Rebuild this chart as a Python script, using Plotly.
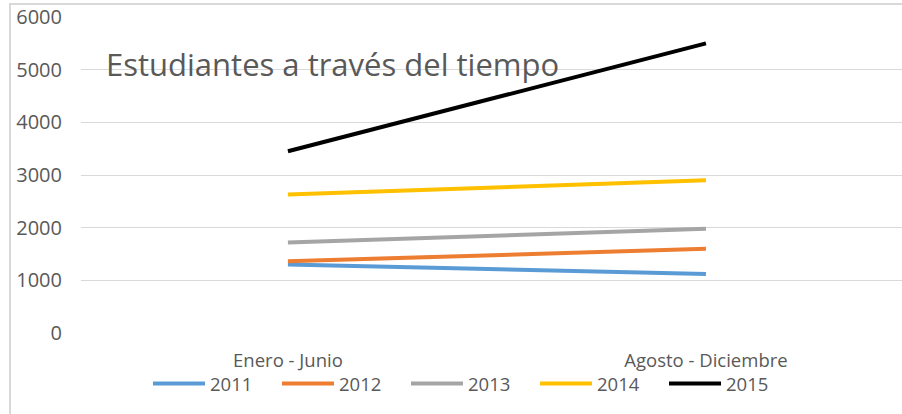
import plotly.graph_objects as go

categories = ["Enero - Junio", "Agosto - Diciembre"]
years = ["2011", "2012", "2013", "2014", "2015"]
v2011 = [1300, 1120]
v2012 = [1360, 1600]
v2013 = [1720, 1980]
v2014 = [2630, 2900]
v2015 = [3450, 5500]
colors = ["#5B9BD5", "#ED7D31", "#A5A5A5", "#FFC000", "#000000"]
title_text = "Estudiantes a través del tiempo"

W, H = 902, 414
L, R, T, B = 81, 0, 17, 81
pw = W - L - R
ph = H - T - B

def px_x(p):
    return (p - L) / pw

def px_y(p):
    return (H - B - p) / ph

fig = go.Figure()
for name, vals, col in zip(years, [v2011, v2012, v2013, v2014, v2015], colors):
    fig.add_trace(go.Scatter(x=categories, y=vals, name=name, mode="lines",
                             line=dict(color=col, width=4)))

tick_font = dict(family="Open Sans", size=20, color="#595959")
small_font = dict(family="Open Sans", size=18.5, color="#595959")

fig.update_layout(
    width=W, height=H,
    margin=dict(l=L, r=R, t=T, b=B),
    paper_bgcolor="white", plot_bgcolor="white",
    font=tick_font,
    xaxis=dict(range=[-0.495, 1.469], showgrid=False, zeroline=False, showline=False,
               ticks="", tickfont=small_font, ticklabelstandoff=14),
    yaxis=dict(range=[0, 6000], tickvals=[0, 1000, 2000, 3000, 4000, 5000, 6000],
               showgrid=True, gridcolor="#d9d9d9", gridwidth=1, zeroline=False,
               showline=False, ticks="", tickfont=tick_font, ticklabelstandoff=18),
    legend=dict(orientation="h", x=px_x(148), xanchor="left", y=px_y(365), yanchor="top",
                font=small_font, bgcolor="rgba(0,0,0,0)", itemwidth=52,
                entrywidth=62, entrywidthmode="pixels", traceorder="normal"),
    showlegend=True,
)

fig.add_annotation(text=title_text, xref="paper", yref="paper", x=px_x(104), y=px_y(64),
                   xanchor="left", yanchor="middle", showarrow=False,
                   font=dict(family="Open Sans", size=31, color="#595959"))

# outer chart border (left and top edges visible)
fig.add_shape(type="rect", xref="paper", yref="paper",
              x0=px_x(10), x1=px_x(W + 20), y0=px_y(H + 20), y1=px_y(4),
              line=dict(color="#d9d9d9", width=2), layer="below")

fig.write_html("out.html", config={"displayModeBar": False},
               post_script="document.body.style.margin='0';")
